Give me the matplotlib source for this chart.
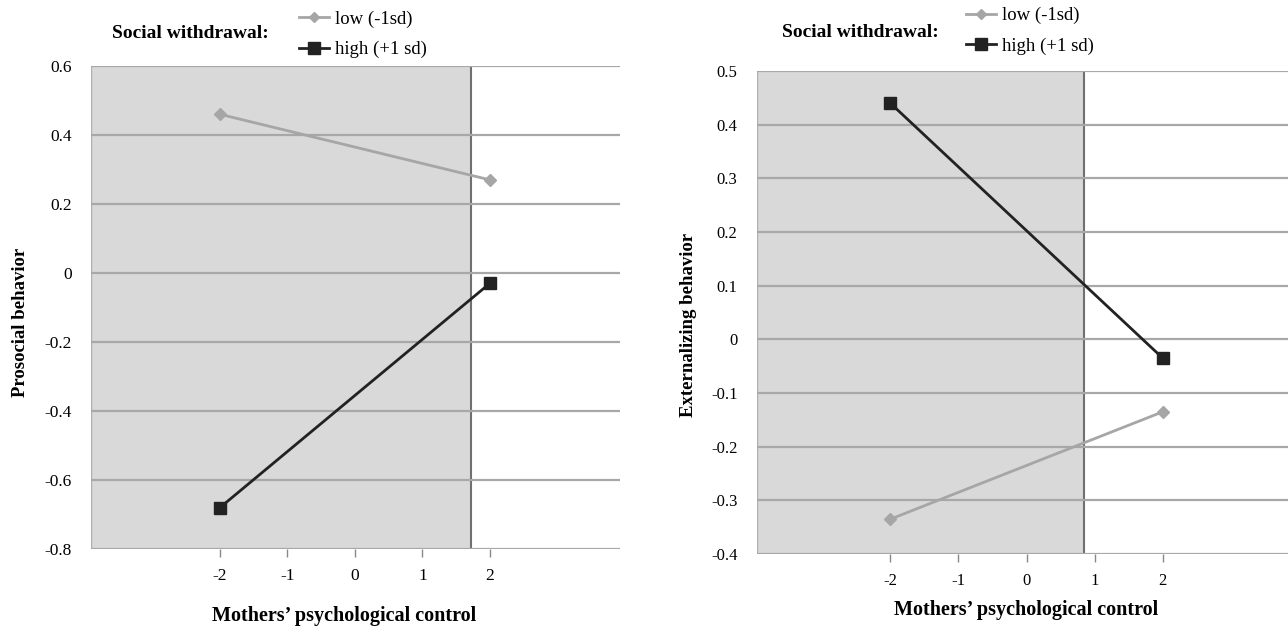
import matplotlib.pyplot as plt
from matplotlib.lines import Line2D

# ------------------- data -------------------
x_levels = [-2, 2]
x_ticks = [-2, -1, 0, 1, 2]

prosocial_low = [0.46, 0.27]
prosocial_high = [-0.68, -0.03]
prosocial_yticks = [0.6, 0.4, 0.2, 0, -0.2, -0.4, -0.6, -0.8]
prosocial_shade_end = 1.72

extern_low = [-0.335, -0.135]
extern_high = [0.44, -0.035]
extern_yticks = [0.5, 0.4, 0.3, 0.2, 0.1, 0, -0.1, -0.2, -0.3, -0.4]
extern_shade_end = 0.85

series_labels = ["low (-1sd)", "high (+1 sd)"]

# ------------------- style -------------------
plt.rcParams["font.family"] = ["Liberation Serif", "DejaVu Serif"]
plt.rcParams["axes.unicode_minus"] = False

low_color = "#a6a6a6"
high_color = "#222222"
grid_color = "#a8a8a8"
shade_color = "#d9d9d9"

fig = plt.figure(figsize=(12.88, 6.28), dpi=100)


def fmt(v):
    return "0" if v == 0 else f"{v:g}"


def draw_panel(ax, low, high, yticks, shade_end, xlim, ylabel,
               tick_fs, ylab_xy, xlab_xy):
    ymin, ymax = min(yticks), max(yticks)
    ax.set_xlim(*xlim)
    ax.set_ylim(ymin, ymax)
    # region of significance
    ax.axvspan(xlim[0], shade_end, color=shade_color, zorder=0, lw=0)
    ax.axvline(xlim[0], color="#b0b0b0", lw=1, zorder=1)
    ax.axvline(shade_end, color="#707070", lw=1.5, zorder=1)
    for yt in yticks:
        ax.axhline(yt, color=grid_color, lw=1.6, zorder=1)

    ax.plot(x_levels, low, color=low_color, lw=2, marker="D", ms=6,
            zorder=3)
    ax.plot(x_levels, high, color=high_color, lw=2, marker="s", ms=8,
            zorder=3)

    for s in ax.spines.values():
        s.set_visible(False)
    ax.set_yticks(yticks)
    ax.set_yticklabels([fmt(v) for v in yticks])
    ax.set_xticks(x_ticks)
    ax.set_xticklabels([str(v) for v in x_ticks])
    ax.tick_params(axis="y", length=0, pad=14, labelsize=tick_fs)
    ax.tick_params(axis="x", length=6, width=1, color="#888888",
                   direction="out", pad=8, labelsize=tick_fs)
    ax.set_ylabel(ylabel, fontsize=13.5, fontweight="bold")
    ax.yaxis.set_label_coords(*ylab_xy)
    ax.set_xlabel("Mothers\u2019 psychological control", fontsize=14.5,
                  fontweight="bold")
    ax.xaxis.set_label_coords(*xlab_xy)


ax1 = fig.add_axes([0.0707, 0.1258, 0.4107, 0.7691])
draw_panel(ax1, prosocial_low, prosocial_high, prosocial_yticks,
           prosocial_shade_end, (-3.91, 3.93), "Prosocial behavior",
           12.5, (-0.118, 0.47), (0.478, -0.118))

ax2 = fig.add_axes([0.5877, 0.1178, 0.4123, 0.7691])
draw_panel(ax2, extern_low, extern_high, extern_yticks,
           extern_shade_end, (-3.96, 3.84), "Externalizing behavior",
           12, (-0.112, 0.474), (0.507, -0.095))

# ------------------- legends -------------------
handles = [
    Line2D([], [], color=low_color, lw=2, marker="D", ms=5),
    Line2D([], [], color=high_color, lw=2, marker="s", ms=8),
]
for x_title, y_title, x_leg, y_leg in [(0.087, 0.947, 0.225, 0.945),
                                       (0.607, 0.949, 0.743, 0.951)]:
    fig.text(x_title, y_title, "Social withdrawal:", fontsize=14,
             fontweight="bold", va="center")
    fig.legend(handles, series_labels, loc="center left",
               bbox_to_anchor=(x_leg, y_leg), frameon=False,
               fontsize=13.5, handlelength=1.6, handletextpad=0.3,
               labelspacing=0.7, borderpad=0)

fig.savefig("out.png", dpi=100)
